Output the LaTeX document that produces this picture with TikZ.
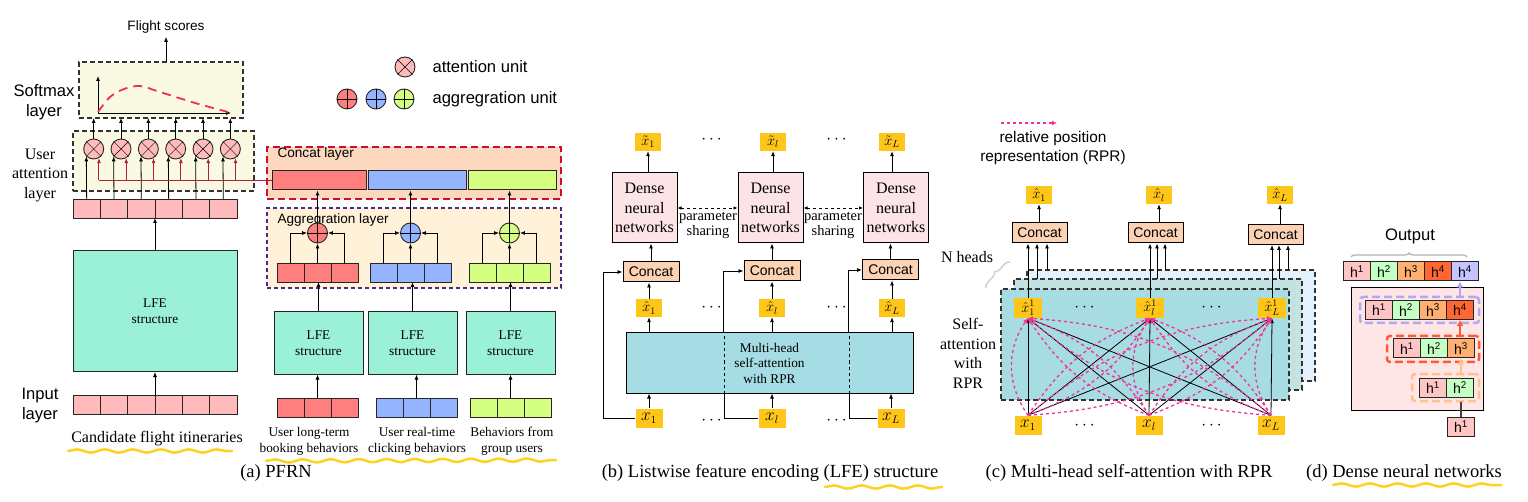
\documentclass[tikz,border=0pt]{standalone}
\usepackage{fontspec}
\setmainfont{Liberation Serif}
\setsansfont{Liberation Sans}
\usepackage{amsmath,amssymb}
\usepackage{xcolor}
\usetikzlibrary{arrows.meta,positioning,calc,decorations.pathreplacing,decorations.pathmorphing}

\definecolor{pinkc}{HTML}{FFBBBB}
\definecolor{softbg}{HTML}{FAFAE4}
\definecolor{lfegreen}{HTML}{9BF0D8}
\definecolor{cred}{HTML}{FF7F7F}
\definecolor{cblue}{HTML}{94B4FF}
\definecolor{cgreen}{HTML}{D5FF80}
\definecolor{catbg}{HTML}{FCD8BE}
\definecolor{catred}{HTML}{C8102E}
\definecolor{aggbg}{HTML}{FFF2D8}
\definecolor{aggpurple}{HTML}{4B2A86}
\definecolor{darkred}{HTML}{B0203A}
\definecolor{curvered}{HTML}{F03050}
\definecolor{labyellow}{HTML}{FFC61A}
\definecolor{dnnpink}{HTML}{FCE4E6}
\definecolor{catfill}{HTML}{FCD2B4}
\definecolor{mhblue}{HTML}{A6DCE3}
\definecolor{lyBack}{HTML}{E2F1FB}
\definecolor{lyMid}{HTML}{C5E2E2}
\definecolor{lyFront}{HTML}{A8DCE3}
\definecolor{rprpink}{HTML}{F0329B}
\definecolor{hlyellow}{HTML}{FFD21F}
\definecolor{hpink}{HTML}{FFC4C4}
\definecolor{hgreen}{HTML}{C4FFC4}
\definecolor{horange}{HTML}{FFB070}
\definecolor{hred}{HTML}{FF6633}
\definecolor{hlav}{HTML}{C4C4FF}
\definecolor{dpink}{HTML}{FFE6E6}
\definecolor{gpurple}{HTML}{B4A5F5}
\definecolor{gred}{HTML}{FF5A33}
\definecolor{gorange}{HTML}{FFC08A}

\newcommand\capsize{\fontsize{18.5}{21}\selectfont}
\newcommand\lblsize{\fontsize{16}{19.5}\selectfont}
\newcommand\parsize{\fontsize{14.5}{15}\selectfont}
\newcommand\smlsize{\fontsize{13.3}{15.5}\selectfont}
\newcommand\sansbig{\sffamily\fontsize{16.6}{20}\selectfont}
\newcommand\sansrpr{\sffamily\fontsize{15.4}{19}\selectfont}
\newcommand\sansmid{\sffamily\fontsize{14}{16}\selectfont}
\newcommand\sanssml{\sffamily\fontsize{13.6}{16}\selectfont}
\newcommand\mathsize{\fontsize{14}{16}\selectfont}
\newcommand\inpsize{\fontsize{16}{18}\selectfont}

\tikzset{
  arr/.style={-{Latex[length=5pt,width=4pt]}, line width=0.8pt},
  cell/.style={draw=black!85, line width=0.9pt, minimum width=27.33pt, minimum height=19pt, inner sep=0pt, outer sep=0pt, anchor=west},
  bar/.style={draw=black!85, line width=1pt, minimum height=19pt, inner sep=0pt},
  dashbox/.style={draw=black!80, dash pattern=on 5pt off 3pt, line width=1.1pt, inner sep=0pt, outer sep=0pt},
  ucirc/.style={circle, draw=black!85, line width=0.9pt, minimum size=20pt, inner sep=0pt},
  lfebox/.style={draw=black!85, line width=1pt, fill=lfegreen, align=center, font=\smlsize, inner sep=0pt},
  ybox/.style={fill=labyellow, minimum width=26pt, minimum height=18pt, inner sep=0pt, font=\mathsize},
  catbox/.style={draw, line width=1pt, fill=catfill, minimum width=56pt, minimum height=20pt, inner sep=0pt, font=\sansmid},
  dnn/.style={draw, line width=1pt, fill=dnnpink, minimum width=65pt, minimum height=70pt, align=center, font=\lblsize, inner sep=0pt},
  redl/.style={draw=darkred, line width=1pt},
  rpr/.style={draw=rprpink, dash pattern=on 3pt off 3pt, line width=1.3pt, -{Latex[length=5pt,width=5pt]}},
  hl/.style={draw=hlyellow, line width=2.5pt, line cap=round, decorate, decoration={snake, segment length=28pt, amplitude=1.6pt}},
  hcell/.style={draw=black!85, line width=1pt, minimum width=27pt, minimum height=19pt, inner sep=0pt, anchor=west, font=\sansmid},
  grpbox/.style={dash pattern=on 8pt off 4pt, line width=2.5pt, rounded corners=3pt, inner sep=0pt, minimum height=26pt},
  carr/.style={line width=2.2pt, -{Latex[length=6pt,width=7pt]}}
}

\begin{document}
\begin{tikzpicture}[x=1pt, y=-1pt]
\useasboundingbox (0,0) rectangle (1528,502);
\fill[white] (0,0) rectangle (1528,502);

% ---------- (a) PFRN ----------
\node[font=\sanssml] (fscore) at (166,27) {Flight scores};
\node[dashbox, fill=softbg, minimum width=164pt, minimum height=56pt] (soft) at (161,90) {};
\draw[arr] (soft.north -| fscore) -- (fscore.south);
% softmax curve
\coordinate (org) at (98,113);
\draw[arr] (org) -- (98,76);
\draw[arr] (org) -- (231,113);
\draw[draw=curvered, line width=1.8pt, dash pattern=on 9pt off 6pt] plot[smooth] coordinates {(98,112) (110,97) (124,89) (140,86) (160,92) (195,103) (228,112)};
\node[font=\sansbig, align=center] (smlab) at (44,102) {Softmax\\layer};

% user attention layer
\node[dashbox, fill=softbg, minimum width=181pt, minimum height=60pt] (uatt) at (163.5,161) {};
\node[font=\lblsize, align=center] (ualab) at (40,175) {User\\attention\\layer};
\foreach \i in {1,...,6}{
  \node[cell, fill=pinkc] (u\i) at ({73+27.33*(\i-1)},208.5) {};
  \node[ucirc, fill=pinkc] (a\i) at ({93.7+27.33*(\i-1)},149) {};
  \draw (a\i.45) -- (a\i.-135) (a\i.135) -- (a\i.-45);
  \draw[arr] (u\i.north) -- (a\i.-135);
  \draw[arr] (a\i.north) -- (a\i.north |- soft.south);
}

% candidate itineraries
\node[lfebox, minimum width=164pt, minimum height=121pt] (lfeA) at (155,311) {LFE\\structure};
\draw[arr] (lfeA.north) -- (lfeA.north |- u1.south);
\foreach \i in {1,...,6}
  \node[cell, fill=pinkc] (p\i) at ({73+27.33*(\i-1)},404.5) {};
\draw[arr] (lfeA.south |- p1.north) -- (lfeA.south);
\node[font=\sansbig, align=center] (inlab) at (40,406) {Input\\layer};
\node[font=\lblsize] (cand) at (157,439) {Candidate flight itineraries};
\draw[hl] (68,451) -- (232,451);

% legend
\node[ucirc, fill=pinkc] (legA) at (405,67) {};
\draw (legA.45) -- (legA.-135) (legA.135) -- (legA.-45);
\node[font=\sansbig, anchor=west] (legAt) at (429,67) {attention unit};
\foreach \c/\xx [count=\k] in {cred/347,cblue/376,cgreen/404}{
  \node[ucirc, fill=\c] (legG\k) at (\xx,99) {};
  \draw (legG\k.north) -- (legG\k.south) (legG\k.east) -- (legG\k.west);
}
\node[font=\sansbig, anchor=west] (legGt) at (429,99) {aggregration unit};

% concat layer
\node[draw=catred, dash pattern=on 7pt off 4pt, line width=2pt, fill=catbg, minimum width=294pt, minimum height=52pt, inner sep=0pt] (catL) at (414,173) {};
\node[font=\sanssml, anchor=west] (catLt) at (274,154) {Concat layer};
\node[bar, fill=cred, minimum width=94pt] (cr) at (319,180.5) {};
\node[bar, fill=cblue, minimum width=98pt] (cb) at (417.5,180.5) {};
\node[bar, fill=cgreen, minimum width=88pt] (cg) at (512,180.5) {};
\draw[redl] (cr.west) -- (a1.-60 |- cr.west);
\foreach \i in {1,...,6}
  \draw[arr, redl] (a\i.-60 |- cr.west) -- (a\i.-60);

% aggregation layer
\node[draw=aggpurple, dash pattern=on 4pt off 3pt, line width=1.2pt, fill=aggbg, minimum width=294pt, minimum height=80pt, inner sep=0pt] (aggL) at (414,248) {};
\node[font=\sanssml, anchor=west] (aggLt) at (274,220) {Aggregration layer};
\foreach \c/\xx/\lx/\ix/\nm in {cred/277/318.5/277/r, cblue/370/412.5/376/b, cgreen/469/510.5/470/g}{
  \foreach \j in {1,2,3}
    \node[cell, fill=\c, minimum width=27pt] (\nm\j) at ({\xx+27*(\j-1)},272.5) {};
  \node[ucirc, fill=\c] (g\nm) at ({\xx+40.5},233) {};
  \draw (g\nm.north) -- (g\nm.south) (g\nm.east) -- (g\nm.west);
  \draw[arr] (\nm2.north) -- (g\nm.south);
  \draw[arr] (\nm1.north) |- (g\nm.west);
  \draw[arr] (\nm3.north) |- (g\nm.east);
  \draw[arr] (g\nm.north) -- (g\nm.north |- cr.south);
  \node[lfebox, minimum width=89pt, minimum height=62pt] (lfe\nm) at (\lx,343) {LFE\\structure};
  \draw[arr] (lfe\nm.north) -- (lfe\nm.north |- \nm1.south);
  \foreach \j in {1,2,3}
    \node[cell, fill=\c, minimum width=27pt] (i\nm\j) at ({\ix+27*(\j-1)},407.5) {};
  \draw[arr] (i\nm2.north) -- (i\nm2.north |- lfe\nm.south);
}
\node[font=\smlsize, align=center] (lab1) at (309,441.5) {User long-term\\booking behaviors};
\node[font=\smlsize, align=center] (lab2) at (417,441.5) {User real-time\\clicking behaviors};
\node[font=\smlsize, align=center] (lab3) at (512,441.5) {Behaviors from\\group users};
\draw[hl] (266,461) -- (556,460);
\node[font=\capsize] (capA) at (276,473) {(a) PFRN};

% ---------- (b) LFE structure ----------
\foreach \n/\xx in {1/648,l/773,L/892}
  \node[ybox] (ot\n) at (\xx,142) {$\tilde{x}_\n$};
\foreach \n/\xx in {1/644.5,l/770.5,L/896}{
  \node[dnn] (d\n) at (\xx,208) {Dense\\neural\\networks};
  \draw[arr] (ot\n.south |- d\n.north) -- (ot\n.south);
}
\foreach \n/\xx/\yy in {1/651/272,l/772/271,L/890.5/270}{
  \node[catbox] (c\n) at (\xx,\yy) {Concat};
  \draw[arr] (c\n.north) -- (c\n.north |- d\n.south);
}
\node[draw, line width=1pt, fill=mhblue, minimum width=287pt, minimum height=60pt, align=center, font=\smlsize, inner sep=0pt] (mh) at (769.5,363) {Multi-head\\self-attention\\with RPR};
\foreach \n/\xx in {1/649,l/772,L/892}{
  \node[ybox] (h\n) at (\xx,308) {$\hat{x}_\n$};
  \draw[arr] (h\n.north) -- (h\n.north |- c\n.south);
  \draw[arr] (h\n.south |- mh.north) -- (h\n.south);
}
\foreach \n/\xx in {1/649,l/772,L/891}{
  \node[ybox, minimum width=27pt, minimum height=19pt, font=\inpsize] (x\n) at (\xx,418) {$x_\n$};
  \draw[arr] (x\n.north) -- (x\n.north |- mh.south);
}
% skip connections
\draw[arr] (x1.west) -- ++(-32,0) |- (c1.west);
\draw (xl.west) -- ++(-34.5,0) coordinate (sk2) -- (sk2 |- mh.south);
\draw[dashed] (sk2 |- mh.south) -- (sk2 |- mh.north);
\draw[arr] (sk2 |- mh.north) |- (cl.west);
\draw (xL.west) -- ++(-28.5,0) coordinate (sk3) -- (sk3 |- mh.south);
\draw[dashed] (sk3 |- mh.south) -- (sk3 |- mh.north);
\draw[arr] (sk3 |- mh.north) |- (cL.west);
% parameter sharing
\draw[dashed, line width=0.9pt, {Latex[length=4pt,width=3.5pt]}-{Latex[length=4pt,width=3.5pt]}] (d1.east) -- (dl.west);
\draw[dashed, line width=0.9pt, {Latex[length=4pt,width=3.5pt]}-{Latex[length=4pt,width=3.5pt]}] (dl.east) -- (dL.west);
\node[font=\parsize, align=center] (ps1) at (708,225) {parameter\\sharing};
\node[font=\parsize, align=center] (ps2) at (833,225) {parameter\\sharing};
\foreach \yy [count=\k] in {140,308,421}{
  \node[font=\inpsize] (dtb\k) at (713,\yy) {$\cdots$};
  \node[font=\inpsize] (dtc\k) at (838,\yy) {$\cdots$};
}
\node[font=\capsize] (capB) at (770,473) {(b) Listwise feature encoding (LFE) structure};
\draw[hl] (825,487) -- (942,487);

% ---------- (c) multi-head self-attention ----------
\coordinate (rprA) at (1001,123);
\coordinate (rprB) at (1057,123);
\draw[rpr] (rprA) -- (rprB);
\node[font=\sansrpr, align=center] (rprt) at (1053,148.5) {relative position\\representation (RPR)};
\node[dashbox, fill=lyBack, minimum width=288pt, minimum height=111pt] (bkL) at (1171,325.5) {};
\node[dashbox, fill=lyMid, minimum width=288pt, minimum height=111pt] (mdL) at (1158,334.5) {};
\node[dashbox, fill=lyFront, minimum width=288pt, minimum height=111pt] (fnL) at (1145,344.5) {};
\node[font=\lblsize] (nh) at (967,257) {N heads};
\draw[draw=black!18, line width=1.5pt, decorate, decoration={brace, amplitude=5pt}] (986,288) -- (1010,262);
\node[font=\lblsize, align=center] (satt) at (968,353.5) {Self-\\attention\\with\\RPR};
\foreach \n/\xx in {1/1028,l/1150,L/1272}
  \node[ybox, minimum width=28pt, minimum height=20pt] (f\n) at (\xx,308) {$\hat{x}^1_\n$};
\foreach \n/\xx in {1/1028,l/1149,L/1271}
  \node[ybox, minimum width=27pt, minimum height=19pt, font=\inpsize] (xa\n) at (\xx,425) {$x_\n$};
\foreach \n/\xx/\yy/\ox/\da/\db in {1/1039.5/233/1039/9/19, l/1155.5/233/1159/7/15, L/1275.5/234.5/1280/7/16}{
  \node[catbox, minimum width=55pt] (k\n) at (\xx,\yy) {Concat};
  \node[ybox] (o\n) at (\ox,195) {$\hat{x}_\n$};
  \draw[arr] (o\n.south |- k\n.north) -- (o\n.south);
  \draw[arr] (f\n.north) -- (f\n.north |- k\n.south);
  \draw[arr] ($(f\n.north |- mdL.north)+(\da,0)$) -- ($(f\n.north |- k\n.south)+(\da,0)$);
  \draw[arr] ($(f\n.north |- bkL.north)+(\db,0)$) -- ($(f\n.north |- k\n.south)+(\db,0)$);
}
% attention links
\foreach \i in {1,l,L}{
  \foreach \j in {1,l,L}
    \draw[arr] (xa\i.north) -- (f\j.south);
  \draw[rpr] (xa\i.north) to[bend left=35] (f\i.south);
}
\foreach \i/\j in {1/l,1/L,l/1,l/L,L/1,L/l}{
  \draw[rpr] (xa\i.north) to[bend left=18] (f\j.south);
  \draw[rpr] (xa\i.north) to[bend right=18] (f\j.south);
}
\foreach \yy [count=\k] in {308,426}{
  \node[font=\inpsize] (dta\k) at (1086,\yy) {$\cdots$};
  \node[font=\inpsize] (dtd\k) at (1213,\yy) {$\cdots$};
}
\node[font=\capsize] (capC) at (1129,473) {(c) Multi-head self-attention with RPR};

% ---------- (d) dense neural networks ----------
\node[font=\sansbig] (outt) at (1410,236) {Output};
\draw[draw=black!30, line width=1.2pt, decorate, decoration={brace, amplitude=4pt}] (1351,257) -- (1467,257);
\foreach \c/\s [count=\k] in {hpink/1,hgreen/2,horange/3,hred/4,hlav/4}
  \node[hcell, fill=\c] (oc\k) at ({1343+27*(\k-1)},271.5) {h\textsuperscript{\s}};
\node[draw, line width=1pt, fill=dpink, minimum width=132pt, minimum height=122pt, inner sep=0pt] (dbx) at (1417,349) {};
\node[grpbox, draw=gpurple, minimum width=119pt] (pb) at (1419.5,310) {};
\foreach \c/\s [count=\k] in {hpink/1,hgreen/2,horange/3,hred/4}
  \node[hcell, fill=\c] (r4\k) at ({1365+27*(\k-1)},310) {h\textsuperscript{\s}};
\node[grpbox, draw=gred, minimum width=92pt] (rb) at (1433,349) {};
\foreach \c/\s [count=\k] in {hpink/1,hgreen/2,horange/3}
  \node[hcell, fill=\c] (r3\k) at ({1393+27*(\k-1)},348.5) {h\textsuperscript{\s}};
\node[grpbox, draw=gorange, minimum width=67pt, minimum height=27pt] (ob) at (1445.5,387.5) {};
\foreach \c/\s [count=\k] in {hpink/1,hgreen/2}
  \node[hcell, fill=\c] (r2\k) at ({1419+27*(\k-1)},387.5) {h\textsuperscript{\s}};
\node[hcell, fill=hpink] (hin) at (1447,426.5) {h\textsuperscript{1}};
\draw[line width=1.2pt, black!75] (hin.north) -- (hin.north |- ob.south);
\draw[carr, draw=gorange] (ob.north -| r33) -- (r33.south);
\draw[carr, draw=gred] (rb.north -| r44) -- (r44.south);
\draw[carr, draw=gpurple] (pb.north -| r44) -- (r44 |- oc5.south);
\node[font=\capsize] (capD) at (1404,473) {(d) Dense neural networks};
\draw[hl] (1333,485) -- (1501,485);
\end{tikzpicture}
\end{document}
